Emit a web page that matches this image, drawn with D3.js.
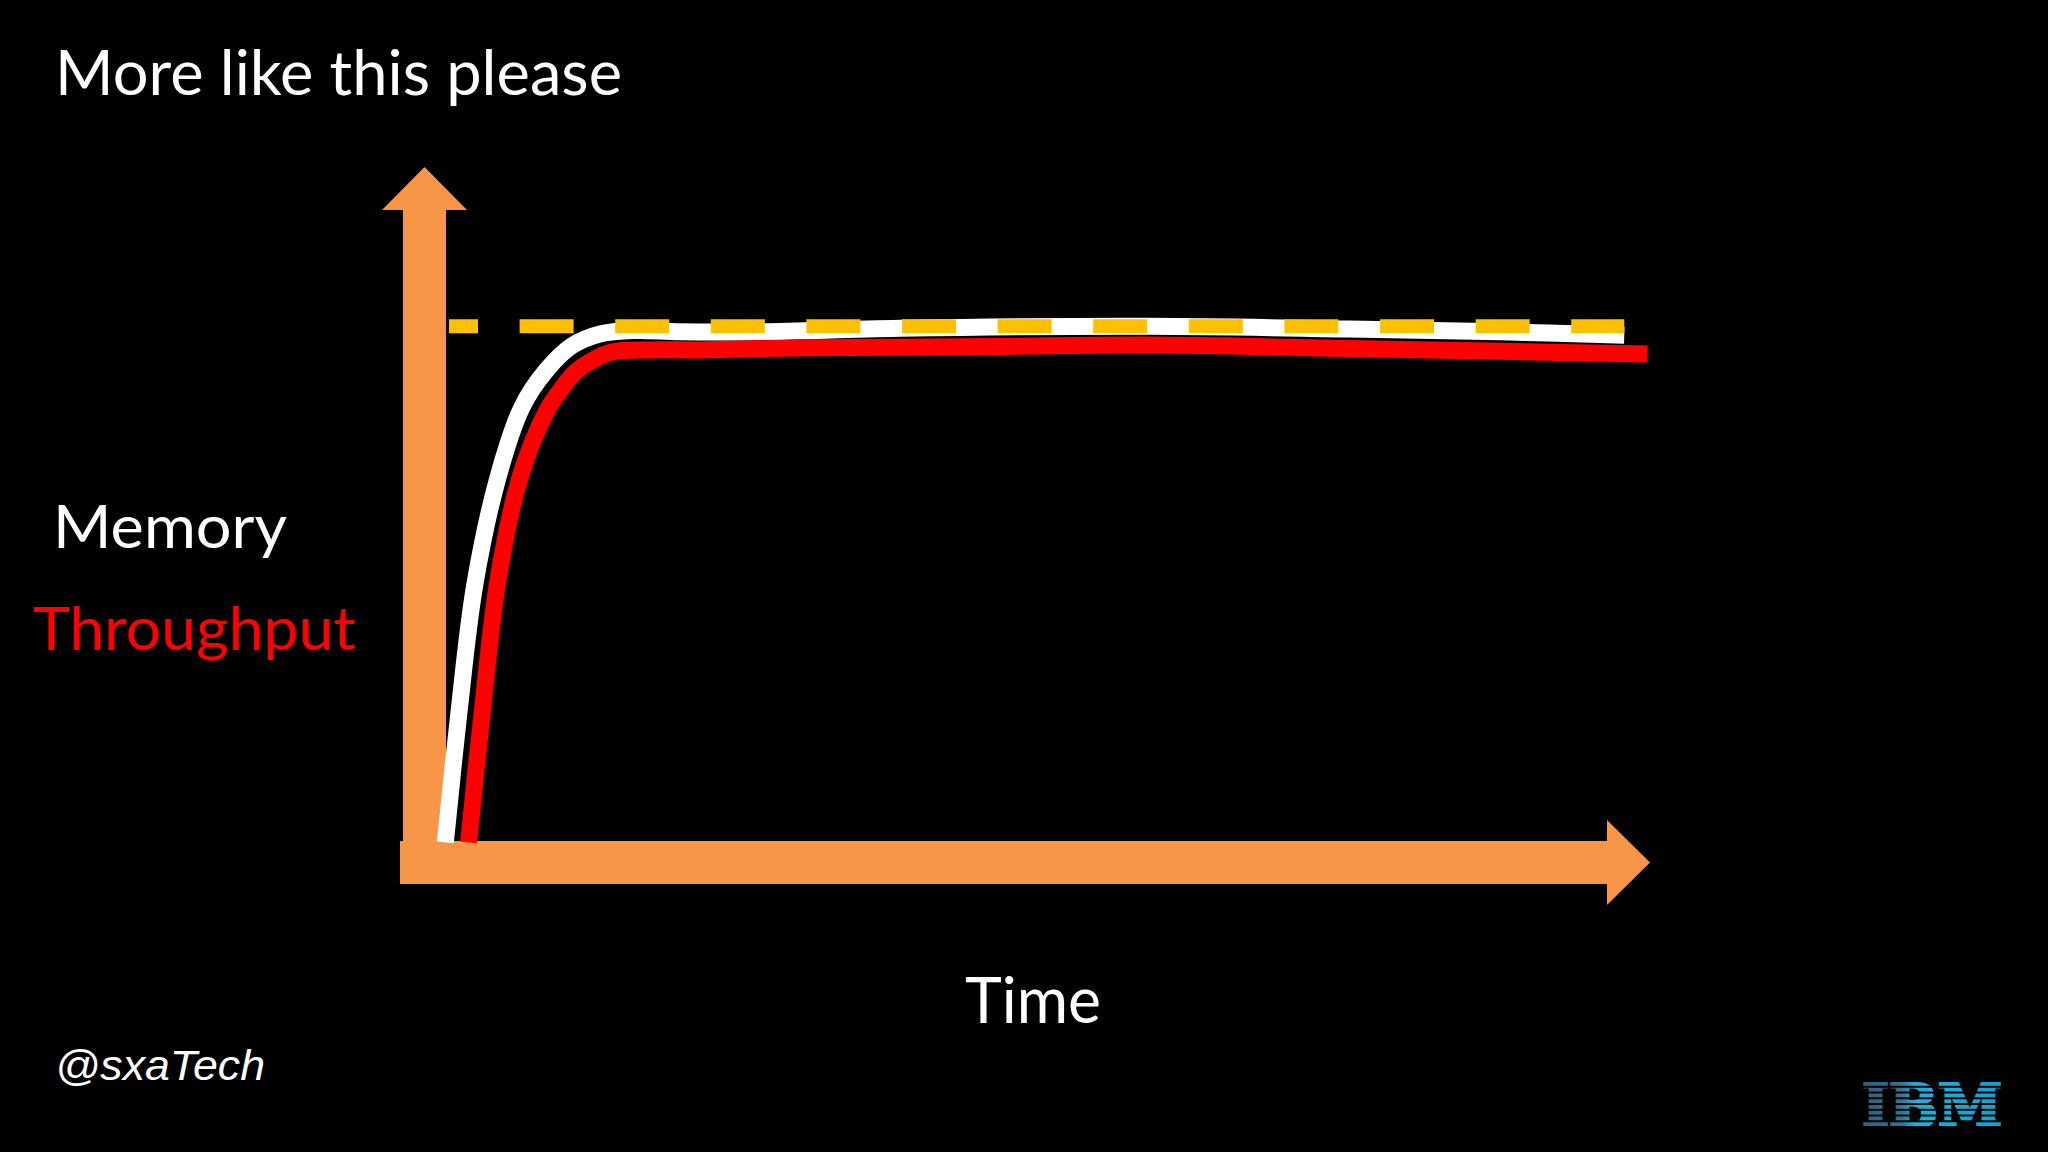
<!DOCTYPE html>
<html>
<head>
<meta charset="utf-8">
<script src="https://cdn.jsdelivr.net/npm/d3@7"></script>
<style>
  html, body { margin: 0; padding: 0; background: #000; }
  svg { display: block; }
</style>
</head>
<body>
<svg id="chart" width="2048" height="1152"></svg>
<script>
// ---- Data (abstract units: time 0..100, level 0..100) ----
const memoryTime   = [1.7, 2.8, 4.1, 6.0, 7.96, 9.91, 12.03, 14.32, 17.18, 20.85, 27.4, 38.8, 59.2, 75.5, 87.8, 97.9];
const memoryLevel  = [2.9, 21.4, 39.9, 55.4, 65.5, 70.7, 74.3, 76.0, 76.5, 76.3, 76.3, 76.8, 77.1, 76.7, 76.3, 75.8];
const throughputTime  = [3.6, 4.7, 6.0, 7.8, 10.0, 11.1, 12.3, 13.7, 15.3, 18.4, 22.5, 30.7, 38.8, 47.0, 59.2, 75.5, 87.8, 99.8];
const throughputLevel = [2.9, 21.4, 40.6, 55.4, 65.0, 67.9, 70.5, 72.2, 73.4, 73.7, 73.7, 74.0, 74.1, 74.2, 74.4, 73.9, 73.5, 73.1];
const limitTime  = [2.0, 97.9];
const limitLevel = [77.1, 77.1];

const titleText = "More like this please";
const yLabels = ["Memory", "Throughput"];
const xLabel = "Time";
const handle = "@sxaTech";

// ---- Layout ----
const W = 2048, H = 1152;
const svg = d3.select("#chart");
svg.append("rect").attr("width", W).attr("height", H).attr("fill", "#000");

const x = d3.scaleLinear().domain([0, 100]).range([424.5, 1650]);
const y = d3.scaleLinear().domain([0, 100]).range([862.5, 167]);

const ORANGE = "#F79646";
const axisW = 43, headHalf = 42.5, headLen = 43;

// Axes as arrows
const x0 = x(0), y0 = y(0), xEnd = x(100), yEnd = y(100);
const ax = svg.append("g");
ax.append("rect")
  .attr("x", x0 - axisW / 2).attr("y", yEnd + headLen)
  .attr("width", axisW).attr("height", y0 - (yEnd + headLen))
  .attr("fill", ORANGE);
ax.append("path")
  .attr("d", d3.line()([[x0 - headHalf, yEnd + headLen], [x0, yEnd], [x0 + headHalf, yEnd + headLen]]) + "Z")
  .attr("fill", ORANGE);
ax.append("rect")
  .attr("x", x0 - 24.5).attr("y", y0 - axisW / 2)
  .attr("width", (xEnd - headLen) - (x0 - 24.5)).attr("height", axisW)
  .attr("fill", ORANGE);
ax.append("path")
  .attr("d", d3.line()([[xEnd - headLen, y0 - headHalf], [xEnd, y0], [xEnd - headLen, y0 + headHalf]]) + "Z")
  .attr("fill", ORANGE);

// Lines
const line = d3.line()
  .x(d => x(d[0])).y(d => y(d[1]))
  .curve(d3.curveCatmullRom.alpha(0.5));

const mem = memoryTime.map((t, i) => [t, memoryLevel[i]]);
const thr = throughputTime.map((t, i) => [t, throughputLevel[i]]);
const lim = limitTime.map((t, i) => [t, limitLevel[i]]);

svg.append("path").attr("d", line(mem))
  .attr("fill", "none").attr("stroke", "#FFFFFF").attr("stroke-width", 17).attr("stroke-linecap", "butt");
svg.append("path").attr("d", line(thr))
  .attr("fill", "none").attr("stroke", "#FF0000").attr("stroke-width", 17).attr("stroke-linecap", "butt");
svg.append("path").attr("d", d3.line().x(d => x(d[0])).y(d => y(d[1]))(lim))
  .attr("fill", "none").attr("stroke", "#FFC000").attr("stroke-width", 14)
  .attr("stroke-dasharray", "54 41.6").attr("stroke-dashoffset", 25);

// Text
const FONT = "Lato, 'Open Sans', sans-serif";
function fitText(sel, target) {
  sel.attr("textLength", target).attr("lengthAdjust", "spacingAndGlyphs");
}
fitText(svg.append("text").attr("x", 55).attr("y", 95)
  .attr("font-family", FONT).attr("font-size", 62).attr("fill", "#fff").text(titleText), 567);
fitText(svg.append("text").attr("x", 53).attr("y", 548)
  .attr("font-family", FONT).attr("font-size", 60).attr("fill", "#fff").text(yLabels[0]), 234);
fitText(svg.append("text").attr("x", 33).attr("y", 650)
  .attr("font-family", FONT).attr("font-size", 60).attr("fill", "#FF0000").text(yLabels[1]), 323);
fitText(svg.append("text").attr("x", 965).attr("y", 1023)
  .attr("font-family", FONT).attr("font-size", 64).attr("fill", "#fff").text(xLabel), 136);
fitText(svg.append("text").attr("x", 55).attr("y", 1080)
  .attr("font-family", "'Liberation Sans', Arial, sans-serif").attr("font-style", "italic")
  .attr("font-size", 42).attr("fill", "#fff").text(handle), 210);

// IBM striped logo
const defs = svg.append("defs");
const grad = defs.append("linearGradient").attr("id", "ibmGrad").attr("x1", "0").attr("x2", "1");
grad.append("stop").attr("offset", "0").attr("stop-color", "#335f7a");
grad.append("stop").attr("offset", "0.28").attr("stop-color", "#35708e");
grad.append("stop").attr("offset", "0.38").attr("stop-color", "#1fb0dc");
grad.append("stop").attr("offset", "1").attr("stop-color", "#1c9cc8");
const mask = defs.append("mask").attr("id", "ibmMask");
const logoTop = 1082, logoH = 46, nStripes = 8;
d3.range(nStripes).forEach(i => {
  mask.append("rect").attr("x", 1850).attr("width", 170)
    .attr("y", logoTop + i * logoH / nStripes).attr("height", logoH / nStripes * 0.66)
    .attr("fill", "#fff");
});
svg.append("text").attr("x", 1862).attr("y", 1127)
  .attr("font-family", "'DejaVu Serif', serif").attr("font-weight", "bold")
  .attr("font-size", 60).attr("fill", "url(#ibmGrad)")
  .attr("stroke", "url(#ibmGrad)").attr("stroke-width", 3)
  .attr("textLength", 140).attr("lengthAdjust", "spacingAndGlyphs")
  .attr("mask", "url(#ibmMask)").text("IBM");
</script>
</body>
</html>
